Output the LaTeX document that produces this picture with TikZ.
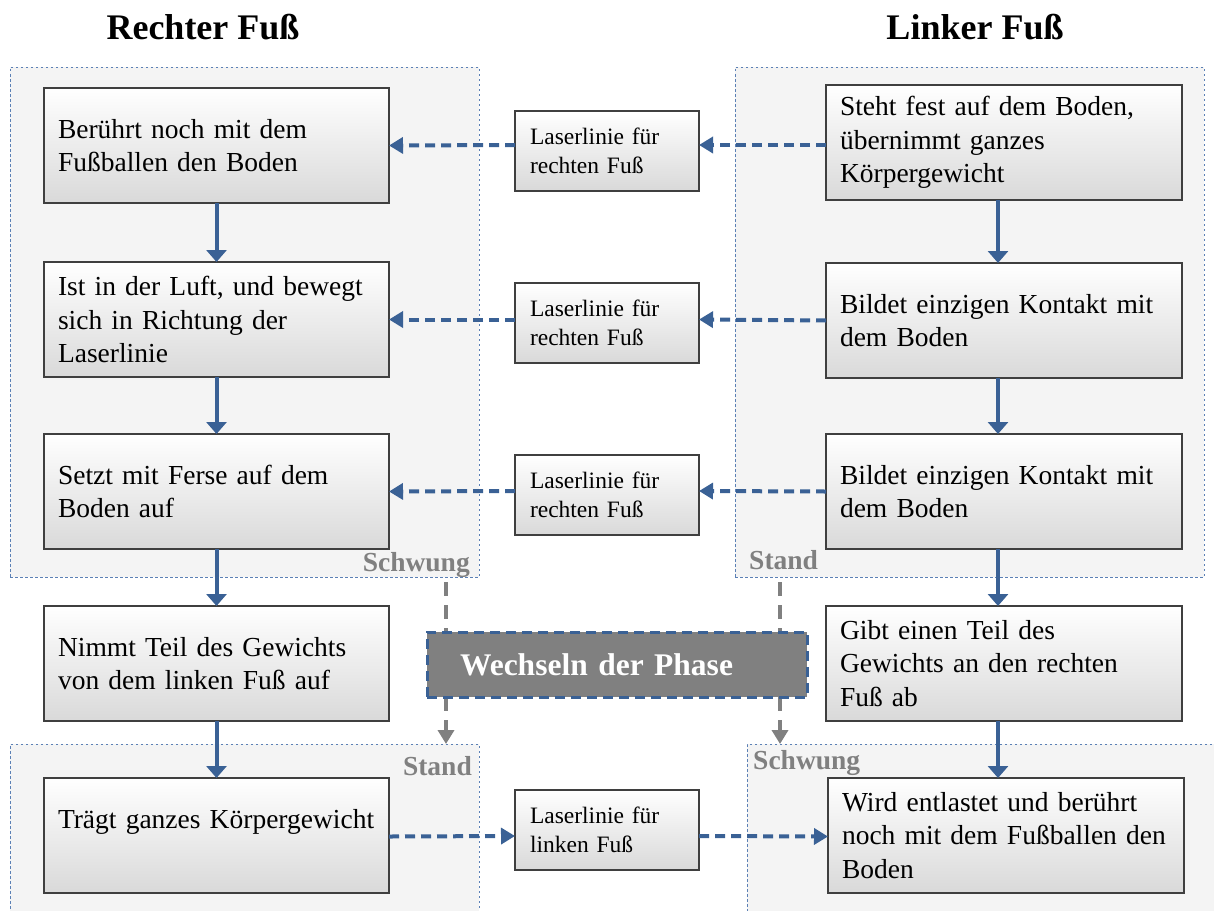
\documentclass[tikz,border=0pt]{standalone}
\usepackage{fontspec}
\setmainfont{Liberation Serif}
\usetikzlibrary{arrows.meta}

\definecolor{grpfill}{HTML}{F4F4F4}
\definecolor{grpline}{HTML}{5B80B5}
\definecolor{flowblue}{HTML}{3A6195}
\definecolor{labgray}{HTML}{808080}
\definecolor{boxline}{HTML}{3F3F3F}
\definecolor{boxbot}{HTML}{D9D9D9}

\tikzset{
  group/.style={fill=grpfill, draw=grpline, line width=0.9pt,
    dash pattern=on 2.5pt off 2.5pt, anchor=north west, inner sep=0pt, outer sep=0pt},
  basebox/.style={draw=boxline, line width=1.3pt, top color=white, bottom color=boxbot,
    anchor=north west, align=left, inner xsep=14pt, inner ysep=0pt, outer sep=0pt,
    font=\fontsize{27.5}{33.5}\selectfont},
  lbox/.style={basebox, minimum width=345pt, text width=317pt, minimum height=115pt},
  rbox/.style={basebox, minimum width=356pt, text width=328pt, minimum height=115pt},
  laser/.style={basebox, minimum width=184pt, text width=154pt, inner xsep=15pt,
    minimum height=80pt, font=\fontsize{23.5}{29}\selectfont},
  phase/.style={fill=labgray, draw=flowblue, line width=3pt, dash pattern=on 10pt off 6pt,
    anchor=north west, minimum width=380pt, minimum height=65pt, inner xsep=33pt,
    text width=314pt, align=left, text=white, outer sep=0pt,
    font=\fontsize{31.5}{35}\selectfont\bfseries},
  title/.style={font=\fontsize{36}{40}\selectfont\bfseries},
  phaselabel/.style={text=labgray, font=\fontsize{27.5}{30}\selectfont\bfseries, inner sep=0pt},
  flow/.style={draw=flowblue, line width=4pt, -{Triangle[width=20pt,length=12pt]}},
  laserflow/.style={draw=flowblue, line width=4pt, dash pattern=on 10pt off 6pt,
    -{Triangle[width=16pt,length=14pt]}},
  phaseflow/.style={draw=labgray, line width=4.5pt, dash pattern=on 14pt off 9pt,
    -{Triangle[width=16pt,length=14pt]}},
}

\begin{document}
\begin{tikzpicture}[x=1pt, y=-1pt]
  \clip (0,0) rectangle (1214,910);
  \fill[white] (0,0) rectangle (1214,910);

  % column headings
  \node[title] (hR) at (203,27) {Rechter Fuß};
  \node[title] (hL) at (975,27) {Linker Fuß};

  % phase groups
  \node[group, minimum width=469pt, minimum height=510pt] (GTL) at (10,67) {};
  \node[group, minimum width=469pt, minimum height=510pt] (GTR) at (735,67) {};
  \node[group, minimum width=469pt, minimum height=200pt] (GBL) at (10,744) {};
  \node[group, minimum width=480pt, minimum height=200pt] (GBR) at (747,744) {};

  \node[phaselabel, anchor=base east] (lTL) at (470,571) {Schwung};
  \node[phaselabel, anchor=base west] (lTR) at (749,569) {Stand};
  \node[phaselabel, anchor=base east] (lBL) at (472,775) {Stand};
  \node[phaselabel, anchor=base west] (lBR) at (753,769) {Schwung};

  % right foot
  \node[lbox] (L1) at (44,88)  {Berührt noch mit dem\\Fußballen den Boden};
  \node[lbox] (L2) at (44,262) {Ist in der Luft, und bewegt\\sich in Richtung der\\Laserlinie};
  \node[lbox] (L3) at (44,434) {Setzt mit Ferse auf dem\\Boden auf};
  \node[lbox] (L4) at (44,606) {Nimmt Teil des Gewichts\\von dem linken Fuß auf};
  \node[lbox] (L5) at (44,778) {Trägt ganzes Körpergewicht\\\mbox{}};

  % left foot
  \node[rbox] (R1) at (826,85)  {Steht fest auf dem Boden,\\übernimmt ganzes\\Körpergewicht};
  \node[rbox] (R2) at (826,263) {Bildet einzigen Kontakt mit\\dem Boden};
  \node[rbox] (R3) at (826,434) {Bildet einzigen Kontakt mit\\dem Boden};
  \node[rbox] (R4) at (826,606) {Gibt einen Teil des\\Gewichts an den rechten\\Fuß ab};
  \node[rbox] (R5) at (828,778) {Wird entlastet und berührt\\noch mit dem Fußballen den\\Boden};

  % laser lines
  \node[laser] (M1) at (515,111) {Laserlinie für\\rechten Fuß};
  \node[laser] (M2) at (515,283) {Laserlinie für\\rechten Fuß};
  \node[laser] (M3) at (515,455) {Laserlinie für\\rechten Fuß};
  \node[laser] (M4) at (515,790) {Laserlinie für\\linken Fuß};

  % phase change
  \draw[phaseflow] ([xshift=-33pt,yshift=-5pt]GTL.south east) -- ([xshift=-33pt]GBL.north east);
  \draw[phaseflow] ([xshift=45pt,yshift=-5pt]GTR.south west) -- ([xshift=33pt]GBR.north west);
  \node[phase] (P) at (427,632) {Wechseln der Phase};

  % sequence within each foot
  \draw[flow] (L1.south) -- (L2.north);
  \draw[flow] (L2.south) -- (L3.north);
  \draw[flow] (L3.south) -- (L4.north);
  \draw[flow] (L4.south) -- (L5.north);
  \draw[flow] ([xshift=-6pt]R1.south) -- ([xshift=-6pt]R2.north);
  \draw[flow] ([xshift=-6pt]R2.south) -- ([xshift=-6pt]R3.north);
  \draw[flow] ([xshift=-6pt]R3.south) -- ([xshift=-6pt]R4.north);
  \draw[flow] ([xshift=-6pt]R4.south) -- ([xshift=-8pt]R5.north);

  % laser connections
  \draw[laserflow] ([yshift=-2.5pt]R1.west) -- ([yshift=6pt]M1.east);
  \draw[laserflow] ([yshift=6pt]M1.west) -- ([yshift=0pt]L1.east);
  \draw[laserflow] ([yshift=0pt]R2.west) -- ([yshift=3.5pt]M2.east);
  \draw[laserflow] ([yshift=3.5pt]M2.west) -- ([yshift=0pt]L2.east);
  \draw[laserflow] ([yshift=0pt]R3.west) -- ([yshift=4pt]M3.east);
  \draw[laserflow] ([yshift=4pt]M3.west) -- ([yshift=0pt]L3.east);
  \draw[laserflow] ([yshift=-1pt]L5.east) -- ([yshift=-6pt]M4.west);
  \draw[laserflow] ([yshift=-6pt]M4.east) -- ([yshift=-1pt]R5.west);
\end{tikzpicture}
\end{document}
